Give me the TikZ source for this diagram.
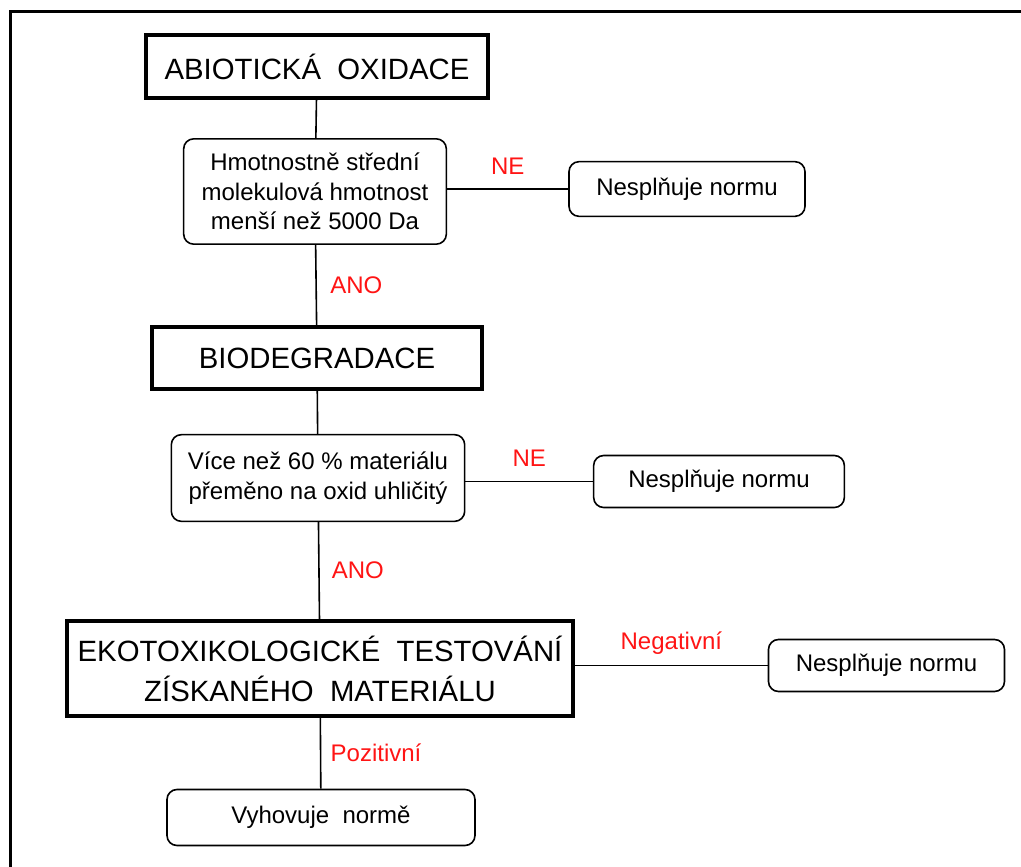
\documentclass[tikz,border=0pt]{standalone}
\usepackage{fontspec}
\setmainfont{Liberation Sans}
\usepackage{tikz}
\usetikzlibrary{positioning, calc}
\definecolor{answerred}{RGB}{255, 20, 20}
\definecolor{inkblack}{RGB}{0, 0, 0}

\begin{document}
\begin{tikzpicture}[
        x=0.75pt, y=-0.75pt,
        stage/.style={rectangle, draw=inkblack, line width=3pt, align=center, inner sep=0pt, font=\fontsize{22pt}{30pt}\selectfont},
        test/.style={rectangle, draw=inkblack, line width=1.2pt, rounded corners=7.5pt, align=center, inner sep=0pt, font=\fontsize{18pt}{22pt}\selectfont},
        result/.style={test},
        answer/.style={inner sep=0pt, text=answerred, font=\fontsize{18pt}{22pt}\selectfont},
        link/.style={draw=inkblack, line width=1.2pt},
        frame/.style={draw=inkblack, line width=2.25pt}
    ]
        \useasboundingbox (0,0) rectangle (1021,867);
        \draw[frame] (1021,12) -- (10,12) -- (10,867);

        % Stages
        \node[stage, minimum width=257pt, minimum height=47pt] (abiotic) at (317,66.5) {ABIOTICKÁ\ \ OXIDACE};
        \node[stage, minimum width=248pt, minimum height=46.5pt] (biodeg) at (317,358) {BIODEGRADACE};
        \node[stage, minimum width=379.5pt, minimum height=71pt] (ekotox) at (320,668.5) {EKOTOXIKOLOGICKÉ\ \ TESTOVÁNÍ\\ZÍSKANÉHO\ \ MATERIÁLU};

        % Tests
        \node[test, minimum width=197pt, minimum height=79pt] (mwtest) at (315,191.5) {Hmotnostně střední\\molekulová hmotnost\\menší než 5000 Da};
        \node[test, minimum width=220pt, minimum height=65pt] (co2test) at (318,478) {Více než 60 \% materiálu\\přeměno na oxid uhličitý};

        % Results
        \node[result, minimum width=177pt, minimum height=41pt] (fail1) at (687,189) {Nesplňuje normu};
        \node[result, minimum width=188pt, minimum height=39pt] (fail2) at (719,481.5) {Nesplňuje normu};
        \node[result, minimum width=177pt, minimum height=39pt] (fail3) at (886.5,665.5) {Nesplňuje normu};
        \node[result, minimum width=231pt, minimum height=42pt] (pass) at (321,817.5) {Vyhovuje\ \ normě};

        % Connections
        \draw[link] (abiotic) -- (mwtest);
        \draw[link] (mwtest) -- node[answer, right=10pt] {ANO} (biodeg);
        \draw[link] (biodeg) -- (co2test);
        \draw[link] (co2test) -- node[answer, right=9pt] {ANO} (ekotox);
        \draw[link] (ekotox) -- node[answer, right=7pt] {Pozitivní} (pass);

        \draw[link] (fail1.west -| mwtest.east) -- node[answer, above=10.5pt] {NE} (fail1.west);
        \draw[link] (fail2.west -| co2test.east) -- node[answer, above=10.5pt] {NE} (fail2.west);
        \draw[link] (fail3.west -| ekotox.east) -- node[answer, above=8pt] {Negativní} (fail3.west);

    \end{tikzpicture}
\end{document}
